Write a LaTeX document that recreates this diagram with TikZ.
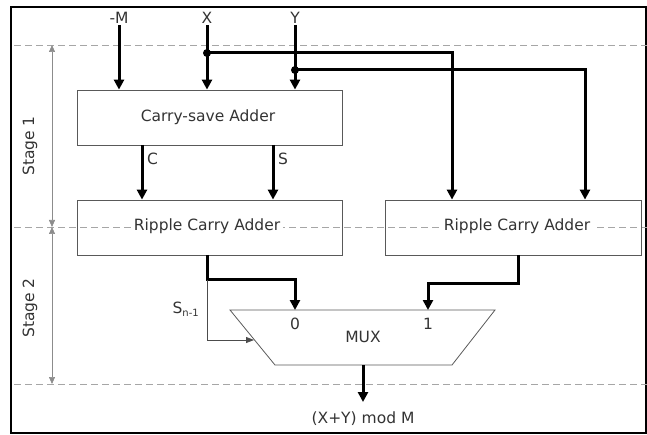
\documentclass[tikz,border=0pt]{standalone}
\usepackage{fontspec}
\setmainfont{DejaVu Sans}
\usetikzlibrary{arrows.meta}
\begin{document}
\begin{tikzpicture}[x=1pt,y=-1pt,
  lbl/.style={font=\fontsize{15.5}{18}\selectfont, text=black!80, inner sep=1pt},
  blk/.style={draw=black!65, line width=0.8pt, minimum height=55pt, inner sep=0pt},
  sig/.style={line width=3pt, -{Triangle[width=10pt,length=10pt]}},
  sep/.style={draw=black!35, dashed, dash pattern=on 7pt off 4pt, line width=0.7pt},
  dim/.style={draw=black!45, line width=0.7pt, {Triangle[width=6pt,length=7pt]}-{Triangle[width=6pt,length=7pt]}},
  dot/.style={circle, fill=black, inner sep=0pt, minimum size=8pt}]
\useasboundingbox (0,0) rectangle (647,435);
\draw[line width=2pt] (11,7) rectangle (646,433);
% separators
\draw[sep] (14,45) -- (647,45);
\draw[sep] (14,227) -- (647,227);
\draw[sep] (14,384) -- (647,384);
% stage dimension lines
\coordinate (s1t) at (52,45);
\coordinate (s1b) at (52,227);
\coordinate (s2b) at (52,384);
\draw[dim] (s1t) -- (s1b);
\draw[dim] (s1b) -- (s2b);
\node[lbl, rotate=90] (st1) at (30,146) {Stage 1};
\node[lbl, rotate=90] (st2) at (30,308) {Stage 2};
% blocks
\node[blk, minimum width=265pt] (csa) at (209.5,117.5) {};
\node[lbl] (csat) at (208,117) {Carry-save Adder};
\node[blk, minimum width=265pt] (rca1) at (209.5,227.5) {};
\node[lbl, fill=white, inner xsep=3pt] (rca1t) at (207,226) {Ripple Carry Adder};
\node[blk, minimum width=256pt] (rca2) at (513,227.5) {};
\node[lbl, fill=white, inner xsep=3pt] (rca2t) at (517,226) {Ripple Carry Adder};
% inputs
\node[lbl] (inM) at (119,18) {-M};
\node[lbl] (inX) at (207,18) {X};
\node[lbl] (inY) at (295,18) {Y};
\draw[sig] (inM.south) -- (inM.south |- csa.north);
\draw[sig] (inX.south) -- (inX.south |- csa.north);
\draw[sig] (inY.south) -- (inY.south |- csa.north);
% branches
\coordinate (jx) at (207,53);
\coordinate (jy) at (295,70);
\coordinate (rx) at (452,53);
\coordinate (ry) at (585,70);
\draw[sig] (jx) -- (rx) -- (rx |- rca2.north);
\draw[sig] (jy) -- (ry) -- (ry |- rca2.north);
\node[dot] (djx) at (jx) {};
\node[dot] (djy) at (jy) {};
% C and S
\coordinate (cs) at (142,145);
\coordinate (ss) at (273,145);
\draw[sig] (cs) -- (cs |- rca1.north);
\draw[sig] (ss) -- (ss |- rca1.north);
\node[lbl, anchor=west] (cl) at (146,159) {C};
\node[lbl, anchor=west] (sl) at (277,159) {S};
% MUX
\coordinate (mtl) at (230,310);
\coordinate (mtr) at (495,310);
\coordinate (mbr) at (452,365);
\coordinate (mbl) at (275,365);
\draw[draw=black!65, line width=0.8pt] (mtl) -- (mtr) -- (mbr) -- (mbl) -- cycle;
\node[lbl] (mux) at (363,337) {MUX};
\node[lbl] (m0) at (295,324) {0};
\node[lbl] (m1) at (428,324) {1};
% rca1 to mux 0
\coordinate (o1) at (207,255);
\coordinate (b1) at (207,280);
\draw[sig] (o1) -- (b1) -- (295,280) -- (m0.north |- mtl);
% sign bit
\coordinate (sb) at (207,340);
\draw[draw=black!70, line width=0.8pt, -{Triangle[width=6pt,length=8pt]}] (b1) -- (sb) -- (254,340);
\node[lbl, anchor=east] (sn) at (200,309) {S\raisebox{-0.4ex}{\fontsize{10}{11}\selectfont n-1}};
% rca2 to mux 1
\coordinate (o2) at (518,255);
\draw[sig] (o2) -- (518,284) -- (428,284) -- (m1.north |- mtl);
% output
\node[lbl] (out) at (363,419) {(X+Y) mod M};
\draw[sig] (mux |- mbl) -- (363,402);
\end{tikzpicture}
\end{document}
